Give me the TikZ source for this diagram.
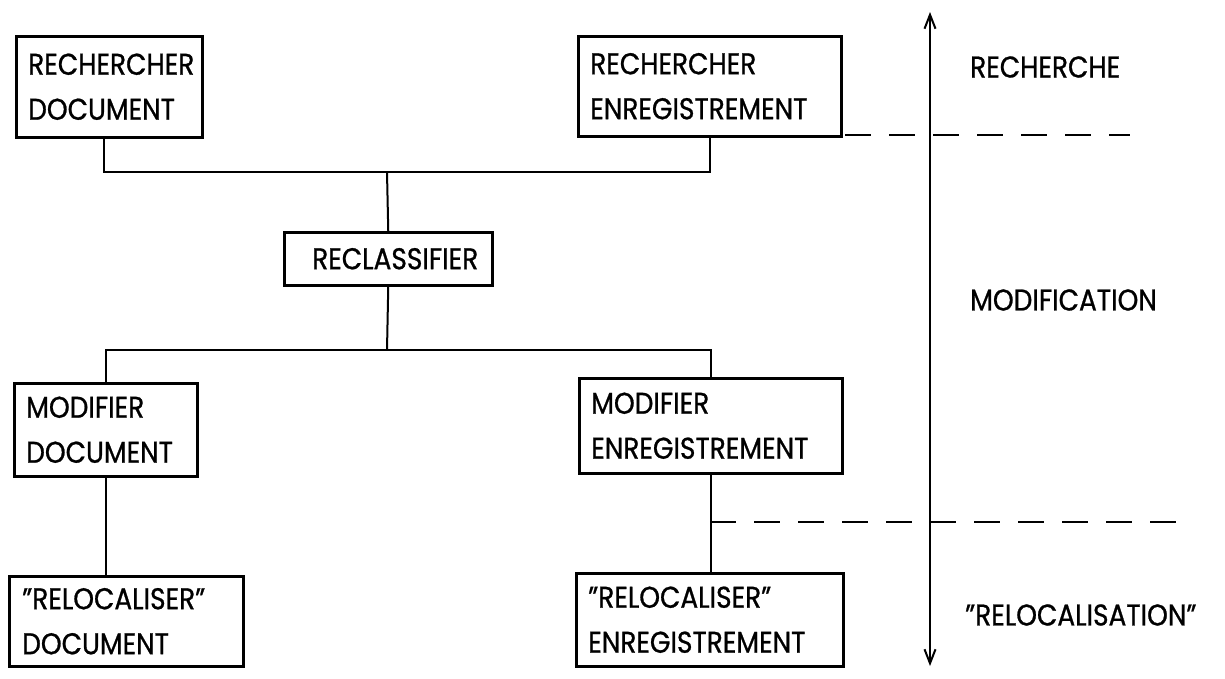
\documentclass[tikz,border=0pt]{standalone}
\usepackage{fontspec}
\setmainfont{Poppins}[FakeStretch=0.88, FakeBold=0.8]
\usetikzlibrary{arrows.meta}
\newcommand{\diafont}{\fontsize{30}{45}\selectfont}
\begin{document}
\begin{tikzpicture}[x=1pt,y=-1pt,
  tbox/.style={draw, line width=2.5pt, inner xsep=12pt, inner ysep=0pt, align=left, anchor=north west, font=\diafont},
  conn/.style={line width=2pt},
  sep/.style={line width=2.5pt, dash pattern=on 26pt off 18pt},
  axis/.style={line width=2pt, {Straight Barb[length=14pt,width=11pt,line width=2pt]}-{Straight Barb[length=14pt,width=11pt,line width=2pt]}},
  lbl/.style={anchor=west, inner sep=0pt, font=\diafont}]
\fill[white] (0,0) rectangle (1225,678);
\useasboundingbox (0,0) rectangle (1225,678);

\node[tbox, minimum width=186pt, minimum height=101pt, text width=162pt] (rd) at (15,35) {RECHERCHER\\DOCUMENT};
\node[tbox, minimum width=263pt, minimum height=100pt, text width=239pt] (re) at (577,35) {RECHERCHER\\ENREGISTREMENT};
\node[draw, line width=2.5pt, inner sep=0pt, anchor=north west, minimum width=208pt, minimum height=53pt, font=\diafont] (rc) at (283,231) {\hspace*{14pt}RECLASSIFIER};
\node[tbox, minimum width=183pt, minimum height=93pt, text width=159pt] (md) at (13,382) {MODIFIER\\DOCUMENT};
\node[tbox, minimum width=263pt, minimum height=95pt, text width=239pt] (me) at (578,377) {MODIFIER\\ENREGISTREMENT};
\node[tbox, minimum width=234pt, minimum height=90pt, text width=208pt, inner xsep=13pt] (lrd) at (8,575) {"RELOCALISER"\\DOCUMENT};
\node[tbox, minimum width=267pt, minimum height=93pt, text width=243pt] (lre) at (575,572) {"RELOCALISER"\\ENREGISTREMENT};

\coordinate (t) at (387,172);
\coordinate (b) at (387,350);
\draw[conn] ([xshift=-5pt]rd.south) |- (t) -| (re.south);
\draw[conn] (t) -- (rc.north);
\draw[conn] (rc.south) -- (b);
\draw[conn] (md.north) |- (b) -| (me.north);
\draw[conn] (md.south) -- (md.south |- lrd.north);
\draw[conn] (me.south) -- (me.south |- lre.north);

\coordinate (atop) at (930,12);
\coordinate (abot) at (930,666);
\draw[axis] (atop) -- (abot);

\coordinate (d1a) at (845,135);
\coordinate (d1b) at (1130,135);
\coordinate (d2a) at (710,522);
\coordinate (d2b) at (1192,522);
\draw[sep] (d1a) -- (d1b);
\draw[sep] (d2a) -- (d2b);

\node[lbl] (l1) at (970,67) {RECHERCHE};
\node[lbl] (l2) at (970,300) {MODIFICATION};
\node[lbl] (l3) at (965,615) {"RELOCALISATION"};
\end{tikzpicture}
\end{document}
